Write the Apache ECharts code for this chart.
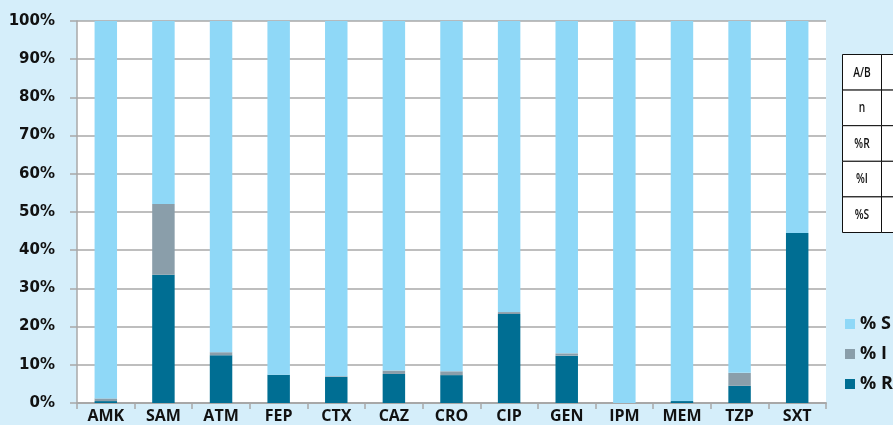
<!DOCTYPE html>
<html><head><meta charset="utf-8">
<script src="https://cdn.jsdelivr.net/npm/echarts@6/dist/echarts.min.js"></script>
<style>html,body{margin:0;padding:0;background:#d5eefa;}#c{width:893px;height:425px;}</style>
</head><body><div id="c"></div>
<script>
const categories = ['AMK','SAM','ATM','FEP','CTX','CAZ','CRO','CIP','GEN','IPM','MEM','TZP','SXT'];
const pctR = [0.5, 33.6, 12.5, 7.4, 6.8, 7.6, 7.3, 23.3, 12.4, 0, 0.5, 4.5, 44.5];
const pctI = [0.7, 18.5, 0.8, 0, 0.2, 0.9, 1.0, 0.5, 0.6, 0, 0, 3.4, 0];
const pctS = pctR.map((r, i) => +(100 - r - pctI[i]).toFixed(1));
const seriesNames = ['% S', '% I', '% R'];
const tableRows = ['A/B', 'n', '%R', '%I', '%S'];

const FONT = '"Open Sans", "Noto Sans", sans-serif';
const YFONT = '"DejaVu Sans", "Open Sans", sans-serif';
const colS = '#8fd8f7', colI = '#8a9eaa', colR = '#006e93';

const chart = echarts.init(document.getElementById('c'));

const graphics = [];
const tblX = 842.5, tblTop = 54.5, rowH = 35.6, col1W = 39;
tableRows.forEach((t, i) => {
  graphics.push({type: 'rect', shape: {x: tblX, y: tblTop + i * rowH, width: col1W, height: rowH},
    style: {fill: '#fff', stroke: '#111', lineWidth: 1}});
  graphics.push({type: 'rect', shape: {x: tblX + col1W, y: tblTop + i * rowH, width: 60, height: rowH},
    style: {fill: '#fff', stroke: '#111', lineWidth: 1}});
  graphics.push({type: 'text', x: tblX + col1W / 2, y: tblTop + i * rowH + rowH / 2, scaleX: 0.68,
    style: {text: t, fill: '#111', font: '600 15px "Open Sans", sans-serif',
      align: 'center', verticalAlign: 'middle'}});
});

chart.setOption({
  backgroundColor: '#d5eefa',
  animation: false,
  grid: {left: 77, right: 67, top: 21, bottom: 22, show: true, backgroundColor: '#ffffff', borderWidth: 0},
  legend: {
    orient: 'vertical', left: 840, top: 310, itemWidth: 10, itemHeight: 10, itemGap: 12,
    icon: 'rect', data: seriesNames,
    textStyle: {fontFamily: FONT, fontWeight: 'bold', fontSize: 18, color: '#111'}
  },
  xAxis: {
    type: 'category', data: categories,
    axisLine: {lineStyle: {color: '#a8a8a8', width: 2}},
    axisTick: {show: true, length: 6, lineStyle: {color: '#a8a8a8', width: 1.5}},
    axisLabel: {fontFamily: FONT, fontWeight: 'bold', fontSize: 16, color: '#111', margin: 5}
  },
  yAxis: {
    type: 'value', min: 0, max: 100, interval: 10,
    axisLine: {show: true, lineStyle: {color: '#a8a8a8', width: 1.5}},
    axisTick: {show: true, length: 7, lineStyle: {color: '#a8a8a8', width: 1.5}},
    splitLine: {lineStyle: {color: '#a8a8a8', width: 1.5}},
    axisLabel: {formatter: '{value}%', fontFamily: YFONT, fontWeight: 'bold', fontSize: 15, color: '#111', margin: 22}
  },
  graphic: graphics,
  series: [
    {name: '% R', type: 'bar', stack: 'a', data: pctR, barWidth: '39%', itemStyle: {color: colR}},
    {name: '% I', type: 'bar', stack: 'a', data: pctI, itemStyle: {color: colI}},
    {name: '% S', type: 'bar', stack: 'a', data: pctS, itemStyle: {color: colS}}
  ]
});
</script></body></html>
